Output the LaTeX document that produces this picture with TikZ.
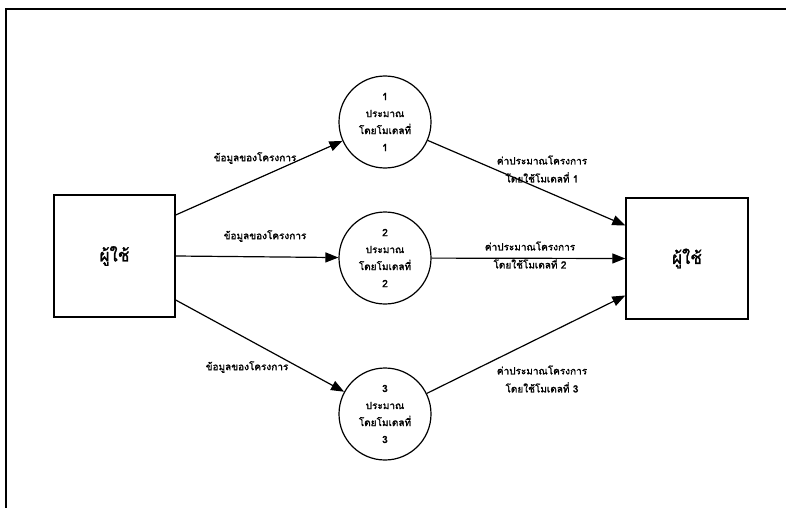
\documentclass[tikz,border=0pt]{standalone}
\usepackage{fontspec}
\newfontfamily\thaifont[Script=Thai,AutoFakeBold=1.5]{Loma}
\usetikzlibrary{arrows.meta}

\tikzset{
  frameline/.style={line width=1.8pt},
  userbox/.style={draw, line width=1.4pt, rectangle, inner sep=0pt,
    font=\thaifont\bfseries\fontsize{17}{20}\selectfont},
  procnode/.style={draw, line width=1.2pt, circle, minimum size=92pt, inner sep=0pt,
    align=center, font=\thaifont\bfseries\fontsize{10}{17}\selectfont},
  flowlabel/.style={align=center, inner sep=1pt,
    font=\thaifont\bfseries\fontsize{10}{18}\selectfont},
  arr/.style={line width=1.2pt, -{Triangle[length=13pt,width=10pt]}}
}

\begin{document}
\begin{tikzpicture}[x=1pt,y=-1pt]
\useasboundingbox (0,0) rectangle (786,508);

% open page frame: top rule and left rule
\coordinate (ftl) at (6,9);
\coordinate (ftr) at (786,9);
\coordinate (fbl) at (6,508);
\draw[frameline] (ftr) -- (ftl) -- (fbl);

% external entities
\node[userbox, minimum width=121pt, minimum height=122pt] (userL) at (114.5,256) {ผู้ใช้};
\node[userbox, minimum width=122pt, minimum height=121pt] (userR) at (687,258.5) {ผู้ใช้};

% estimation processes
\node[procnode] (m1) at (385,122) {1\\ประมาณ\\โดยโมเดลที่\\1};
\node[procnode] (m2) at (385,258) {2\\ประมาณ\\โดยโมเดลที่\\2};
\node[procnode] (m3) at (385,414) {3\\ประมาณ\\โดยโมเดลที่\\3};

% project data flowing into each model
\draw[arr] ([yshift=41pt]userL.east) -- (m1);
\draw[arr] (userL.east) -- (m2);
\draw[arr] ([yshift=-44pt]userL.east) -- (m3);

% estimates flowing back to the user
\draw[arr] (m1) -- ([yshift=33pt]userR.west);
\draw[arr] (m2) -- (userR.west);
\draw[arr] (m3) -- ([yshift=-37pt]userR.west);

% flow labels
\node[flowlabel] (in1) at (255,158) {ข้อมูลของโครงการ};
\node[flowlabel] (in2) at (265,236) {ข้อมูลของโครงการ};
\node[flowlabel] (in3) at (247,367) {ข้อมูลของโครงการ};
\node[flowlabel] (out1) at (542,169) {ค่าประมาณโครงการ\\โดยใช้โมเดลที่ 1};
\node[flowlabel] (out2) at (530,255) {ค่าประมาณโครงการ\\โดยใช้โมเดลที่ 2};
\node[flowlabel] (out3) at (542,379) {ค่าประมาณโครงการ\\โดยใช้โมเดลที่ 3};
\end{tikzpicture}
\end{document}
